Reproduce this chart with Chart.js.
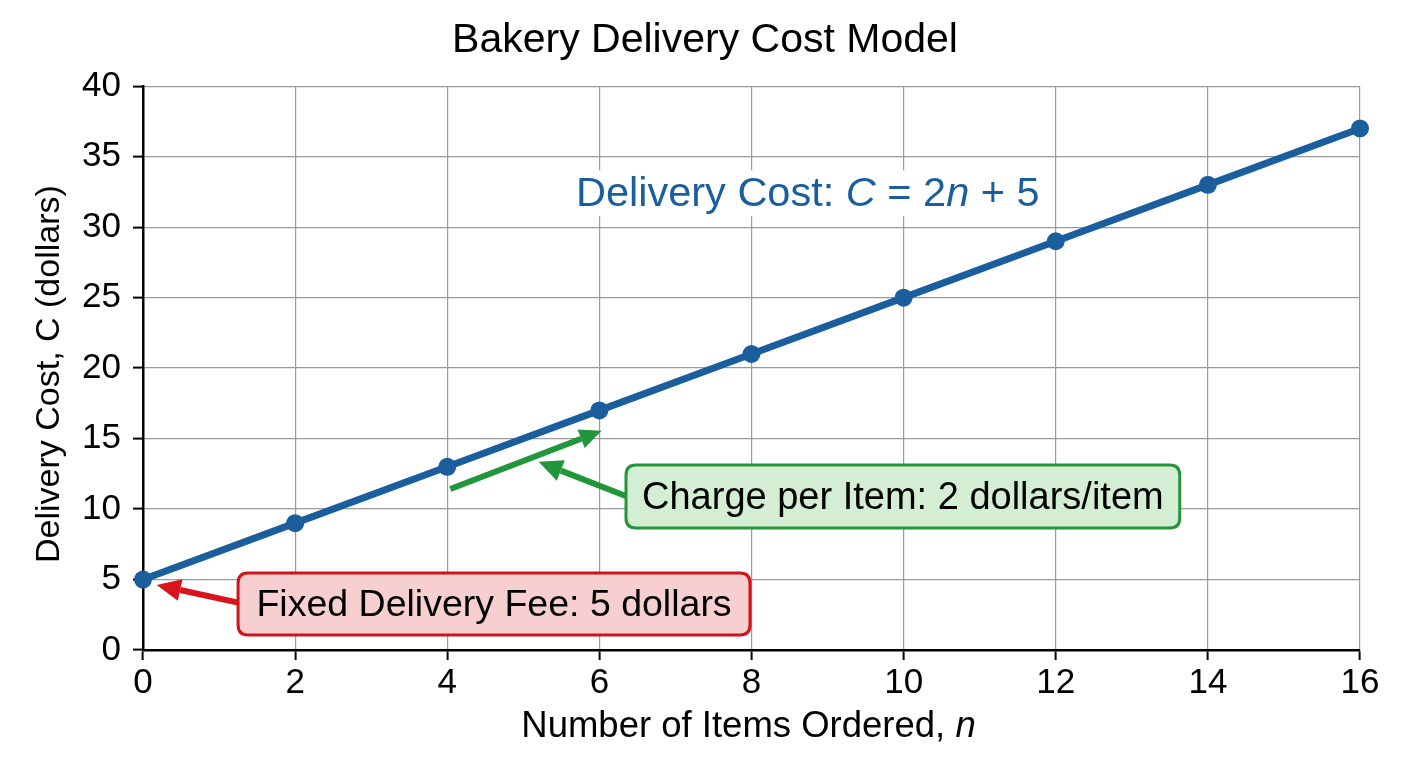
<!DOCTYPE html>
<html>
<head>
<meta charset="utf-8">
<script src="https://cdn.jsdelivr.net/npm/chart.js@4.4.1/dist/chart.umd.min.js"></script>
<style>
  html, body { margin: 0; padding: 0; background: #ffffff; }
  #wrap { width: 1408px; height: 768px; }
</style>
</head>
<body>
<div id="wrap"><canvas id="c" width="1408" height="768"></canvas></div>
<script>
// ---- data ----
const itemsOrdered = [0, 2, 4, 6, 8, 10, 12, 14, 16];
const deliveryCost = [5, 9, 13, 17, 21, 25, 29, 33, 37];
const chartTitle = 'Bakery Delivery Cost Model';
const xTitleParts = [['Number of Items Ordered, ', false], ['n', true]];
const yTitleParts = [['Delivery Cost, C (dollars)', false]];
const formulaParts = [['Delivery Cost: ', false], ['C', true], [' = 2', false], ['n', true], [' + 5', false]];
const fixedFeeText = 'Fixed Delivery Fee: 5 dollars';
const perItemText = 'Charge per Item: 2 dollars/item';

const FONT = '"Liberation Sans", Arial, Helvetica, sans-serif';
const LINE_COLOR = '#1b5e9e';

// annotation placement (in data units)
const notes = {
  formula: { x: 8.74, y: 32.4 },
  redBox: { x0: 1.25, x1: 7.98, y0: 5.46, y1: 1.06 },
  redArrow: { from: [1.28, 3.33], to: [0.18, 4.62] },
  greenBox: { x0: 6.35, x1: 13.63, y0: 13.12, y1: 8.65 },
  greenArrow: { from: [6.38, 10.85], to: [5.2, 13.35] },
  slopeArrow: { from: [4.04, 11.42], to: [6.03, 15.55] }
};

function partsWidth(ctx, parts, size) {
  let w = 0;
  for (const [t, it] of parts) {
    ctx.font = (it ? 'italic ' : '') + size + 'px ' + FONT;
    w += ctx.measureText(t).width;
  }
  return w;
}
function drawParts(ctx, parts, size, cx, cy, color) {
  const w = partsWidth(ctx, parts, size);
  let x = cx - w / 2;
  ctx.fillStyle = color;
  ctx.textBaseline = 'middle';
  ctx.textAlign = 'left';
  for (const [t, it] of parts) {
    ctx.font = (it ? 'italic ' : '') + size + 'px ' + FONT;
    ctx.fillText(t, x, cy);
    x += ctx.measureText(t).width;
  }
  return w;
}
function roundRect(ctx, x, y, w, h, r) {
  ctx.beginPath();
  ctx.moveTo(x + r, y);
  ctx.lineTo(x + w - r, y);
  ctx.quadraticCurveTo(x + w, y, x + w, y + r);
  ctx.lineTo(x + w, y + h - r);
  ctx.quadraticCurveTo(x + w, y + h, x + w - r, y + h);
  ctx.lineTo(x + r, y + h);
  ctx.quadraticCurveTo(x, y + h, x, y + h - r);
  ctx.lineTo(x, y + r);
  ctx.quadraticCurveTo(x, y, x + r, y);
  ctx.closePath();
}
function arrow(ctx, x0, y0, x1, y1, color, lw, headLen, headW) {
  const a = Math.atan2(y1 - y0, x1 - x0);
  const bx = x1 - headLen * Math.cos(a), by = y1 - headLen * Math.sin(a);
  ctx.strokeStyle = color;
  ctx.lineWidth = lw;
  ctx.lineCap = 'butt';
  ctx.beginPath();
  ctx.moveTo(x0, y0);
  ctx.lineTo(bx, by);
  ctx.stroke();
  ctx.fillStyle = color;
  ctx.beginPath();
  ctx.moveTo(x1, y1);
  ctx.lineTo(bx + headW / 2 * Math.sin(a), by - headW / 2 * Math.cos(a));
  ctx.lineTo(bx - headW / 2 * Math.sin(a), by + headW / 2 * Math.cos(a));
  ctx.closePath();
  ctx.fill();
}

const annotPlugin = {
  id: 'annot',
  afterLayout(chart) {
    // centre the title over the plot like the reference
    const tb = chart.titleBlock;
    if (tb) { tb.left += 25; tb.right += 25; }
  },
  beforeDatasetsDraw(chart) {
    const ctx = chart.ctx, xs = chart.scales.x, ys = chart.scales.y;
    ctx.save();
    // formula label with white background
    const fx = xs.getPixelForValue(notes.formula.x), fy = ys.getPixelForValue(notes.formula.y);
    const fw = partsWidth(ctx, formulaParts, 41.5);
    ctx.fillStyle = '#ffffff';
    ctx.fillRect(fx - fw / 2 - 4, fy - 23, fw + 8, 46);
    drawParts(ctx, formulaParts, 41.5, fx, fy + 1, LINE_COLOR);
    ctx.restore();
  },
  afterDraw(chart) {
    const ctx = chart.ctx, xs = chart.scales.x, ys = chart.scales.y, ca = chart.chartArea;
    const px = v => xs.getPixelForValue(v), py = v => ys.getPixelForValue(v);
    ctx.save();
    // arrows
    const sa = notes.slopeArrow;
    arrow(ctx, px(sa.from[0]), py(sa.from[1]), px(sa.to[0]), py(sa.to[1]), '#22963a', 6, 22, 20);
    const ga = notes.greenArrow;
    arrow(ctx, px(ga.from[0]), py(ga.from[1]), px(ga.to[0]), py(ga.to[1]), '#22963a', 6, 24, 22);
    const ra = notes.redArrow;
    arrow(ctx, px(ra.from[0]), py(ra.from[1]), px(ra.to[0]), py(ra.to[1]), '#d8141c', 6, 24, 22);
    // red box
    const rb = notes.redBox;
    roundRect(ctx, px(rb.x0), py(rb.y0), px(rb.x1) - px(rb.x0), py(rb.y1) - py(rb.y0), 10);
    ctx.fillStyle = '#f8cfd0';
    ctx.fill();
    ctx.strokeStyle = '#d0141c';
    ctx.lineWidth = 3;
    ctx.stroke();
    ctx.fillStyle = '#000';
    ctx.font = '37.5px ' + FONT;
    ctx.textAlign = 'center';
    ctx.textBaseline = 'middle';
    ctx.fillText(fixedFeeText, (px(rb.x0) + px(rb.x1)) / 2, (py(rb.y0) + py(rb.y1)) / 2 + 2);
    // green box
    const gb = notes.greenBox;
    roundRect(ctx, px(gb.x0), py(gb.y0), px(gb.x1) - px(gb.x0), py(gb.y1) - py(gb.y0), 10);
    ctx.fillStyle = '#d3eed3';
    ctx.fill();
    ctx.strokeStyle = '#26943a';
    ctx.lineWidth = 3;
    ctx.stroke();
    ctx.fillStyle = '#000';
    ctx.font = '38px ' + FONT;
    ctx.fillText(perItemText, (px(gb.x0) + px(gb.x1)) / 2, (py(gb.y0) + py(gb.y1)) / 2 + 2);
    // axis titles
    drawParts(ctx, xTitleParts, 36.5, (ca.left + ca.right) / 2 - 3, 727, '#000');
    ctx.translate(50, (ca.top + ca.bottom) / 2 + 6);
    ctx.rotate(-Math.PI / 2);
    drawParts(ctx, yTitleParts, 34, 0, 0, '#000');
    ctx.restore();
  }
};

new Chart(document.getElementById('c'), {
  type: 'line',
  data: {
    datasets: [{
      label: 'Delivery Cost',
      data: itemsOrdered.map((n, i) => ({ x: n, y: deliveryCost[i] })),
      borderColor: LINE_COLOR,
      backgroundColor: LINE_COLOR,
      borderWidth: 7,
      pointRadius: 9,
      pointHoverRadius: 9,
      pointBackgroundColor: LINE_COLOR,
      pointBorderWidth: 0,
      tension: 0,
      clip: false
    }]
  },
  options: {
    responsive: false,
    animation: false,
    layout: { padding: { left: 0, right: 48, top: 0, bottom: 0 } },
    plugins: {
      legend: { display: false },
      tooltip: { enabled: false },
      title: {
        display: true,
        text: chartTitle,
        color: '#000',
        font: { family: FONT, size: 41, weight: 'normal' },
        padding: { top: 16, bottom: 21 }
      }
    },
    scales: {
      x: {
        type: 'linear',
        min: 0, max: 16,
        afterFit(s) { s.height = 118; },
        ticks: { stepSize: 2, color: '#000', font: { family: FONT, size: 35 }, padding: 2, maxRotation: 0 },
        grid: { color: '#9a9a9a', lineWidth: 1.2, tickLength: 10, tickColor: '#000', tickWidth: 2 },
        border: { display: true, color: '#000', width: 2.5 }
      },
      y: {
        type: 'linear',
        min: 0, max: 40,
        afterFit(s) { s.width = 143; },
        ticks: { stepSize: 5, color: '#000', font: { family: FONT, size: 35 }, padding: 12 },
        grid: { color: '#9a9a9a', lineWidth: 1.2, tickLength: 10, tickColor: '#000', tickWidth: 2 },
        border: { display: true, color: '#000', width: 2.5 }
      }
    }
  },
  plugins: [annotPlugin]
});
</script>
</body>
</html>
